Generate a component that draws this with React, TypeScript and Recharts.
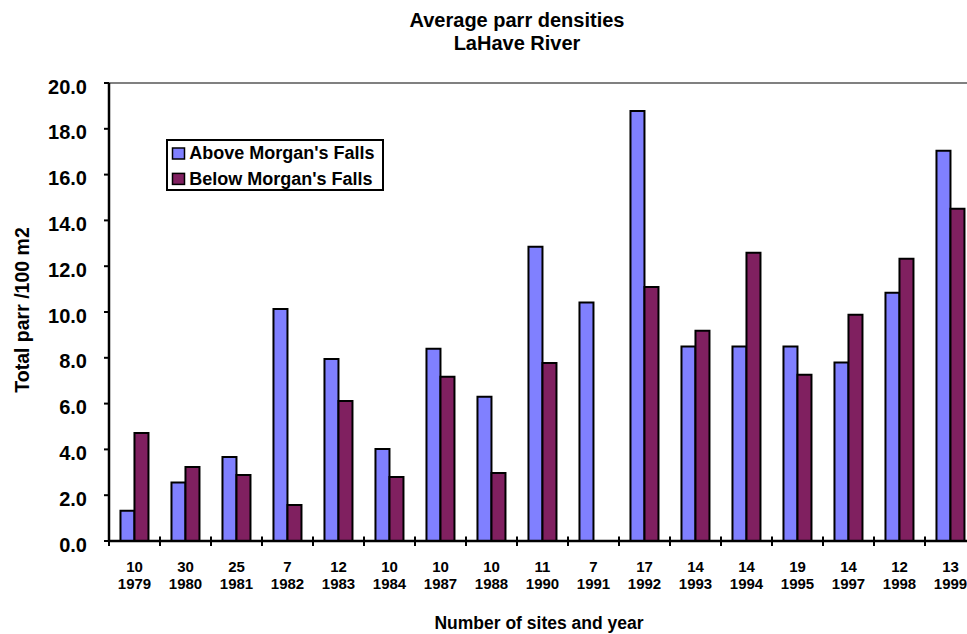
import React from "react";
import { BarChart, Bar, XAxis, YAxis, ReferenceLine, Legend } from "recharts";

// Number of sampling sites per year
const sites = [10, 30, 25, 7, 12, 10, 10, 10, 11, 7, 17, 14, 14, 19, 14, 12, 13];
// Survey years
const years = [1979, 1980, 1981, 1982, 1983, 1984, 1987, 1988, 1990, 1991, 1992, 1993, 1994, 1995, 1997, 1998, 1999];
// Average parr density (per 100 m2) above Morgan's Falls
const above = [1.32, 2.55, 3.67, 10.13, 7.95, 4.02, 8.4, 6.3, 12.85, 10.41, 18.78, 8.49, 8.49, 8.49, 7.79, 10.84, 17.04];
// Average parr density (per 100 m2) below Morgan's Falls (no survey in 1991)
const below: (number | null)[] = [4.72, 3.23, 2.88, 1.57, 6.11, 2.79, 7.17, 2.97, 7.77, null, 11.09, 9.18, 12.59, 7.26, 9.88, 12.33, 14.51];
// Y axis ticks
const yTicks = [0, 2, 4, 6, 8, 10, 12, 14, 16, 18, 20];

const data = years.map((y, i) => ({
  key: `${sites[i]}|${y}`,
  sites: sites[i],
  year: y,
  above: above[i],
  below: below[i],
}));

const FONT = "'Liberation Sans', Arial, Helvetica, sans-serif";

// Category label (sites over year) plus cross tick marks on the category boundaries
const XTick = (props: any) => {
  const { x, y, payload, index, width, visibleTicksCount } = props;
  const [s, yr] = String(payload.value).split("|");
  const half = width / visibleTicksCount / 2;
  const last = index === visibleTicksCount - 1;
  return (
    <g>
      <line x1={x - half} x2={x - half} y1={y - 4.5} y2={y + 5} stroke="#000" strokeWidth={2} />
      {last && <line x1={x + half} x2={x + half} y1={y - 4.5} y2={y + 5} stroke="#000" strokeWidth={2} />}
      <text x={x} y={y} textAnchor="middle" fontFamily={FONT} fontWeight="bold" fontSize={15} fill="#000">
        <tspan x={x} dy={30.7}>{s}</tspan>
        <tspan x={x} dy={17.6}>{yr}</tspan>
      </text>
    </g>
  );
};

const YTick = (props: any) => {
  const { x, y, payload } = props;
  return (
    <text x={x} y={y + 10.6} textAnchor="end" fontFamily={FONT} fontWeight="bold" fontSize={20} fill="#000">
      {Number(payload.value).toFixed(1)}
    </text>
  );
};

const LegendBox = (props: any) => {
  const items = props.payload || [];
  return (
    <svg width={218} height={52} style={{ display: "block" }}>
      <rect x={1} y={1} width={216} height={50} fill="#fff" stroke="#000" strokeWidth={2} />
      {items.map((it: any, i: number) => (
        <g key={i}>
          <rect x={6.5} y={9 + i * 25.4} width={12} height={11} fill={it.color} stroke="#000" strokeWidth={1.5} />
          <text x={23.3} y={20.3 + i * 25.4} fontFamily={FONT} fontWeight="bold" fontSize={18} fill="#000">
            {it.value}
          </text>
        </g>
      ))}
    </svg>
  );
};

export default function App() {
  return (
    <div style={{ position: "absolute", left: 0, top: 0, width: 967, height: 634, overflow: "hidden", background: "#fff" }}>
      <BarChart
        width={1000}
        height={634}
        data={data}
        margin={{ top: 83, right: 24, bottom: 0, left: 0 }}
        barCategoryGap="22.5%"
        barGap={0}
      >
        <XAxis
          dataKey="key"
          interval={0}
          height={93}
          tickSize={0}
          tickMargin={0}
          tickLine={false}
          axisLine={{ stroke: "#000", strokeWidth: 2.5 }}
          tick={<XTick />}
        />
        <YAxis
          domain={[0, 20]}
          ticks={yTicks}
          width={109}
          tickSize={5}
          tickMargin={17}
          axisLine={{ stroke: "#000", strokeWidth: 2.5 }}
          tickLine={{ stroke: "#000", strokeWidth: 2 }}
          tick={<YTick />}
          interval={0}
        />
        <ReferenceLine y={20} stroke="#808080" strokeWidth={2} />
        <Legend
          layout="vertical"
          align="center"
          verticalAlign="middle"
          wrapperStyle={{ position: "absolute", left: 166, top: 139, width: 218, height: 52 }}
          content={<LegendBox />}
        />
        <Bar dataKey="above" name="Above Morgan's Falls" fill="#8080FF" stroke="#000" strokeWidth={2} isAnimationActive={false} />
        <Bar dataKey="below" name="Below Morgan's Falls" fill="#802060" stroke="#000" strokeWidth={2} isAnimationActive={false} />
      </BarChart>
      <svg width={967} height={634} style={{ position: "absolute", left: 0, top: 0, pointerEvents: "none" }}>
        <text x={517} y={26.7} textAnchor="middle" fontFamily={FONT} fontWeight="bold" fontSize={20} fill="#000">
          Average parr densities
        </text>
        <text x={517} y={50} textAnchor="middle" fontFamily={FONT} fontWeight="bold" fontSize={20} fill="#000">
          LaHave River
        </text>
        <text
          x={28.5}
          y={310}
          transform="rotate(-90 28.5 310)"
          textAnchor="middle"
          fontFamily={FONT}
          fontWeight="bold"
          fontSize={19.5}
          fill="#000"
        >
          Total parr /100 m2
        </text>
        <text x={539} y={629} textAnchor="middle" fontFamily={FONT} fontWeight="bold" fontSize={17.5} fill="#000">
          Number of sites and year
        </text>
      </svg>
    </div>
  );
}
